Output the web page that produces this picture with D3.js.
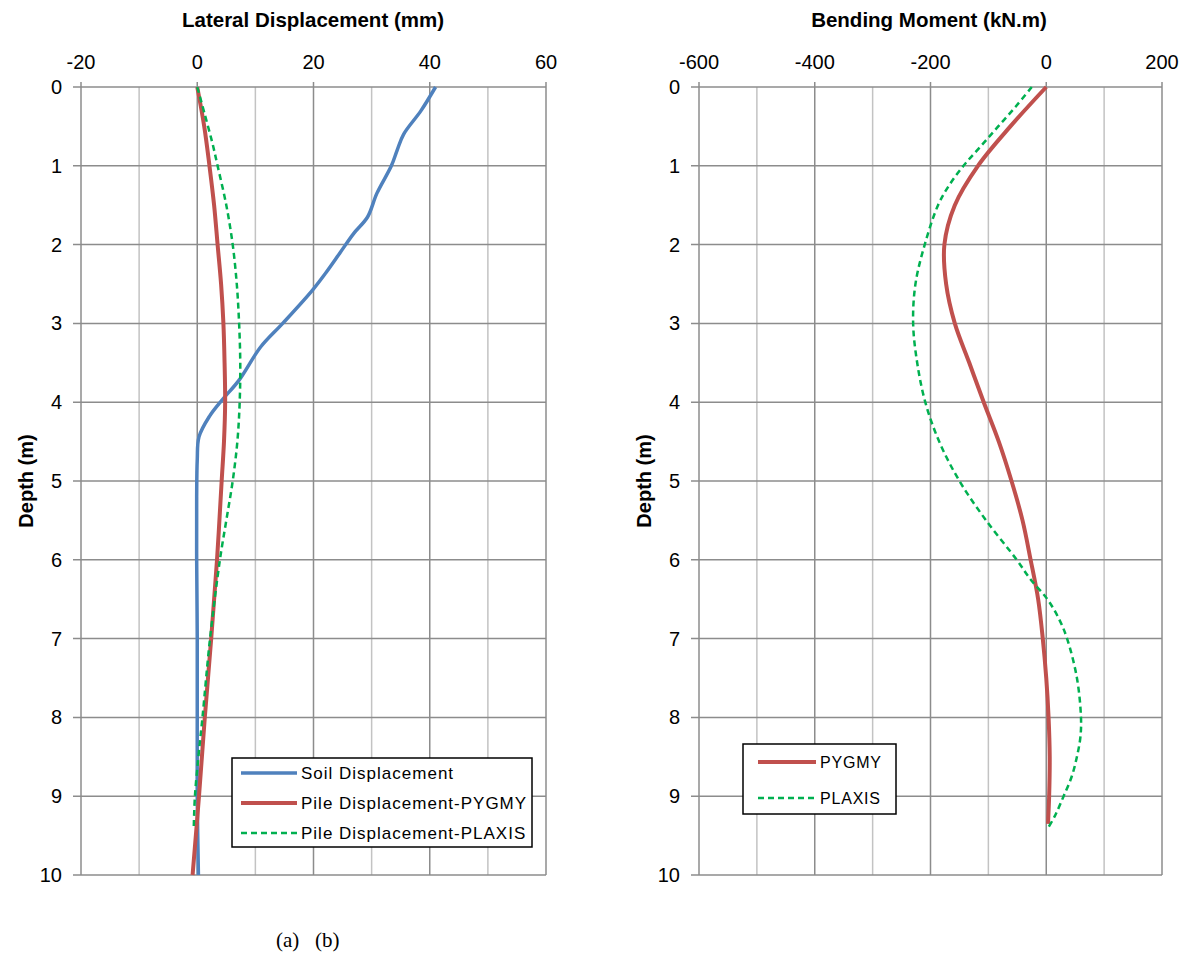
<!DOCTYPE html>
<html>
<head>
<meta charset="utf-8">
<script src="https://cdn.jsdelivr.net/npm/d3@7"></script>
<style>
    body { margin: 0; background: #fff; }
    svg text { font-family: "Liberation Sans", Arial, sans-serif; fill: #000; }
</style>
</head>
<body>
<svg id="chart" width="1187" height="958"></svg>
<script>
// depth ticks shared by both panels
const depthTicks = [0, 1, 2, 3, 4, 5, 6, 7, 8, 9, 10];

// (a) lateral displacement, mm
const dispTicks = [-20, 0, 20, 40, 60];
const soilDepth = [0, 0.3, 0.6, 0.8, 1.0, 1.35, 1.65, 1.86, 2.1, 2.36, 2.58, 3.0, 3.3, 3.72, 3.97, 4.18, 4.44, 4.73, 5.2, 6, 7, 8, 9, 10];
const soilDisp  = [41, 38.5, 35.5, 34.4, 33.4, 30.9, 29.3, 26.9, 24.6, 22.1, 19.8, 14.7, 10.9, 7.2, 4.3, 2.1, 0.3, 0, -0.1, -0.1, 0, 0, 0, 0.2];
const pygmyDispDepth = [0, 0.5, 1, 1.5, 2, 2.5, 3, 3.5, 4, 4.5, 5, 6, 7, 8, 9, 10];
const pygmyDisp      = [0, 1.2, 2.1, 2.9, 3.5, 4.1, 4.5, 4.7, 4.8, 4.6, 4.2, 3.4, 2.4, 1.3, 0.3, -0.8];
const plaxisDispDepth = [0, 0.35, 0.71, 1, 1.5, 2, 2.5, 3, 3.5, 4, 4.5, 5, 5.5, 6, 7, 8, 8.5, 9, 9.4];
const plaxisDisp      = [0, 1.3, 2.6, 3.5, 5.0, 6.1, 6.8, 7.2, 7.4, 7.3, 6.9, 6.1, 5.0, 3.9, 2.2, 0.9, 0.2, -0.4, -0.6];

// (b) bending moment, kN.m
const momentTicks = [-600, -400, -200, 0, 200];
const pygmyMomDepth = [0, 0.5, 1, 1.5, 2, 2.5, 3, 3.5, 4, 4.5, 5, 5.5, 6, 6.5, 7, 7.5, 8, 8.5, 9, 9.35];
const pygmyMom      = [0, -62, -118, -158, -176, -173, -158, -133, -108, -82, -60, -41, -27, -14, -6, 0, 4, 6, 5, 3];
const plaxisMomDepth = [0, 0.25, 0.5, 0.75, 1, 1.25, 1.5, 2, 2.5, 3, 3.5, 4, 4.5, 5, 5.5, 6, 6.25, 6.5, 6.75, 7, 7.5, 8, 8.25, 8.5, 8.75, 9, 9.25, 9.43];
const plaxisMom      = [-25, -53, -83, -113, -143, -168, -187, -210, -226, -230, -223, -209, -185, -150, -104, -51, -27, 2, 22, 36, 53, 60, 59, 53, 44, 30, 15, 1];

const blue = '#4f81bd';
const red = '#c0504d';
const green = '#00b050';

var svg = d3.select('#chart');

var y = d3.scaleLinear()
    .domain([0, 10])
    .range([87, 875]);

function drawPanel(cfg) {
    var x = d3.scaleLinear()
        .domain(cfg.domain)
        .range(cfg.range);

    var g = svg.append('g');

    // minor vertical grid, halfway between the labelled ticks
    var step = (cfg.ticks[1] - cfg.ticks[0]) / 2;
    var minor = d3.range(cfg.domain[0] + step, cfg.domain[1], step * 2);
    g.selectAll('.minor')
        .data(minor)
        .enter().append('line')
        .attr('x1', x).attr('x2', x)
        .attr('y1', y(0)).attr('y2', y(10))
        .attr('stroke', '#c3c3c3')
        .attr('stroke-width', 1.5);

    g.selectAll('.vmajor')
        .data(cfg.ticks)
        .enter().append('line')
        .attr('x1', x).attr('x2', x)
        .attr('y1', y(0) - 5).attr('y2', y(10))
        .attr('stroke', '#8c8c8c')
        .attr('stroke-width', 1.5);

    g.selectAll('.hmajor')
        .data(depthTicks)
        .enter().append('line')
        .attr('x1', cfg.range[0] - 8).attr('x2', cfg.range[1])
        .attr('y1', y).attr('y2', y)
        .attr('stroke', '#8c8c8c')
        .attr('stroke-width', 1.5);

    // top tick labels
    g.selectAll('.xlab')
        .data(cfg.ticks)
        .enter().append('text')
        .attr('x', x)
        .attr('y', 69)
        .attr('text-anchor', 'middle')
        .attr('font-size', 20)
        .text(function(d) { return d; });

    g.selectAll('.ylab')
        .data(depthTicks)
        .enter().append('text')
        .attr('x', cfg.range[0] - 19)
        .attr('y', function(d) { return y(d) + 7; })
        .attr('text-anchor', 'end')
        .attr('font-size', 20)
        .text(function(d) { return d; });

    g.append('text')
        .attr('x', cfg.titleX)
        .attr('y', 27)
        .attr('text-anchor', 'middle')
        .attr('font-size', 20.5)
        .attr('font-weight', 'bold')
        .text(cfg.title);

    g.append('text')
        .attr('transform', 'translate(' + cfg.depthX + ',481) rotate(-90)')
        .attr('text-anchor', 'middle')
        .attr('font-size', 20)
        .attr('font-weight', 'bold')
        .text('Depth (m)');

    var line = d3.line()
        .x(function(d) { return x(d[0]); })
        .y(function(d) { return y(d[1]); })
        .curve(d3.curveCatmullRom.alpha(0.5));

    cfg.series.forEach(function(s) {
        g.append('path')
            .datum(d3.zip(s.values, s.depth))
            .attr('fill', 'none')
            .attr('stroke', s.color)
            .attr('stroke-width', s.width)
            .attr('stroke-dasharray', s.dash || null)
            .attr('d', line);
    });

    // legend
    var lg = g.append('g');
    lg.append('rect')
        .attr('x', cfg.legend.x).attr('y', cfg.legend.y)
        .attr('width', cfg.legend.w).attr('height', cfg.legend.h)
        .attr('fill', '#fff')
        .attr('stroke', '#000')
        .attr('stroke-width', 1.5);
    cfg.series.forEach(function(s, i) {
        var ly = cfg.legend.y + cfg.legend.top + i * cfg.legend.gap;
        lg.append('line')
            .attr('x1', cfg.legend.x + cfg.legend.pad)
            .attr('x2', cfg.legend.x + cfg.legend.pad + cfg.legend.len)
            .attr('y1', ly).attr('y2', ly)
            .attr('stroke', s.color)
            .attr('stroke-width', s.width)
            .attr('stroke-dasharray', s.dash || null);
        lg.append('text')
            .attr('x', cfg.legend.x + cfg.legend.pad + cfg.legend.len + 4)
            .attr('y', ly + 6)
            .attr('font-size', cfg.legend.size)
            .attr('letter-spacing', cfg.legend.spacing)
            .text(s.name);
    });
}

drawPanel({
    domain: [-20, 60],
    range: [81, 546],
    ticks: dispTicks,
    title: 'Lateral Displacement (mm)',
    titleX: 313,
    depthX: 33,
    series: [
        { name: 'Soil Displacement', depth: soilDepth, values: soilDisp, color: blue, width: 3.5 },
        { name: 'Pile Displacement-PYGMY', depth: pygmyDispDepth, values: pygmyDisp, color: red, width: 4 },
        { name: 'Pile Displacement-PLAXIS', depth: plaxisDispDepth, values: plaxisDisp, color: green, width: 2.5, dash: '6,4' }
    ],
    legend: { x: 232, y: 758, w: 300, h: 89, top: 15, gap: 30, pad: 9, len: 56, size: 17, spacing: 1 }
});

drawPanel({
    domain: [-600, 200],
    range: [699, 1162],
    ticks: momentTicks,
    title: 'Bending Moment (kN.m)',
    titleX: 929,
    depthX: 651,
    series: [
        { name: 'PYGMY', depth: pygmyMomDepth, values: pygmyMom, color: red, width: 4 },
        { name: 'PLAXIS', depth: plaxisMomDepth, values: plaxisMom, color: green, width: 2.5, dash: '6,4' }
    ],
    legend: { x: 743, y: 744, w: 153, h: 70, top: 18, gap: 36, pad: 15, len: 58, size: 16, spacing: 0.8 }
});

svg.append('text')
    .attr('x', 276)
    .attr('y', 947)
    .attr('font-size', 21)
    .style('font-family', '"Liberation Serif", "Times New Roman", serif')
    .attr('xml:space', 'preserve')
    .text('(a)   (b)');
</script>
</body>
</html>
